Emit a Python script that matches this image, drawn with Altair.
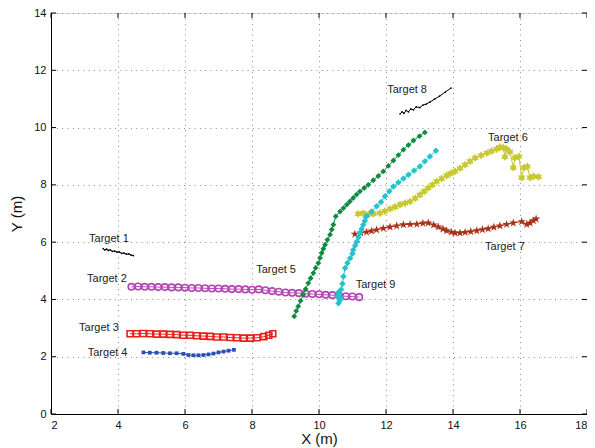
import altair as alt
import pandas as pd

# ---- data ----
t1_x = [3.56, 3.61, 3.66, 3.71, 3.77, 3.83, 3.90, 3.97, 4.04, 4.11, 4.18, 4.25, 4.32, 4.39, 4.46]
t1_y = [5.77, 5.73, 5.76, 5.71, 5.73, 5.68, 5.69, 5.65, 5.66, 5.61, 5.62, 5.58, 5.59, 5.55, 5.53]

t2_x = [4.4, 4.6, 4.8, 5.0, 5.2, 5.4, 5.6, 5.8, 6.0, 6.2, 6.4, 6.6, 6.8, 7.0, 7.2, 7.4, 7.6, 7.8,
        8.0, 8.2, 8.4, 8.6, 8.8, 9.0, 9.2, 9.4, 9.6, 9.8, 10.0, 10.2, 10.4, 10.6, 10.8, 11.0, 11.2]
t2_y = [4.44, 4.45, 4.44, 4.44, 4.43, 4.43, 4.42, 4.42, 4.41, 4.40, 4.40, 4.39, 4.38, 4.38, 4.37, 4.36, 4.36, 4.35,
        4.34, 4.35, 4.32, 4.29, 4.27, 4.24, 4.23, 4.22, 4.20, 4.19, 4.18, 4.16, 4.15, 4.13, 4.11, 4.10, 4.08]

t3_x = [4.36, 4.55, 4.75, 4.95, 5.15, 5.35, 5.55, 5.75, 5.95, 6.15, 6.35, 6.55, 6.75, 6.95, 7.15, 7.35,
        7.55, 7.75, 7.95, 8.15, 8.35, 8.50, 8.62]
t3_y = [2.80, 2.80, 2.81, 2.80, 2.79, 2.79, 2.78, 2.77, 2.75, 2.75, 2.73, 2.72, 2.71, 2.69, 2.69, 2.67,
        2.66, 2.65, 2.65, 2.66, 2.70, 2.75, 2.80]

t4_x = [4.76, 4.95, 5.15, 5.35, 5.55, 5.75, 5.95, 6.10, 6.25, 6.40, 6.55, 6.70, 6.85, 7.00, 7.15, 7.30, 7.46]
t4_y = [2.15, 2.14, 2.14, 2.13, 2.12, 2.12, 2.10, 2.06, 2.05, 2.05, 2.06, 2.08, 2.11, 2.15, 2.18, 2.21, 2.24]

t5_x = [9.26, 9.32, 9.38, 9.45, 9.53, 9.60, 9.68, 9.75, 9.83, 9.90, 9.98, 10.03, 10.08, 10.13, 10.18, 10.25,
        10.33, 10.38, 10.43, 10.50, 10.63, 10.73, 10.83, 10.92, 11.02, 11.12, 11.22, 11.35, 11.47, 11.62,
        11.77, 11.92, 12.07, 12.22, 12.37, 12.52, 12.67, 12.82, 13.00, 13.16]
t5_y = [3.41, 3.60, 3.76, 3.95, 4.16, 4.36, 4.57, 4.74, 4.92, 5.10, 5.27, 5.45, 5.62, 5.77, 5.91, 6.08,
        6.26, 6.44, 6.61, 6.90, 7.07, 7.19, 7.31, 7.42, 7.54, 7.66, 7.77, 7.89, 8.00, 8.16,
        8.31, 8.47, 8.66, 8.85, 9.04, 9.23, 9.39, 9.55, 9.70, 9.83]

t6_x = [11.17, 11.32, 11.40, 11.47, 11.62, 11.82, 11.97, 12.12, 12.27, 12.42, 12.57, 12.72, 12.87, 13.01,
        13.14, 13.26, 13.38, 13.51, 13.66, 13.81, 13.93, 14.06, 14.21, 14.36, 14.51, 14.66, 14.84, 15.01,
        15.15, 15.30, 15.40, 15.50, 15.55, 15.60, 15.70, 15.80, 15.85, 15.97, 16.05, 16.12, 16.22, 16.30,
        16.40, 16.55]
t6_y = [6.99, 7.01, 6.92, 6.96, 6.99, 7.01, 7.08, 7.16, 7.23, 7.31, 7.36, 7.42, 7.53, 7.65,
        7.77, 7.89, 8.00, 8.12, 8.22, 8.32, 8.40, 8.47, 8.58, 8.70, 8.82, 8.94, 9.03, 9.11,
        9.18, 9.25, 9.32, 9.30, 8.98, 9.25, 9.15, 8.60, 8.95, 8.99, 8.25, 8.60, 8.64, 8.25,
        8.30, 8.28]

t7_x = [11.07, 11.25, 11.42, 11.57, 11.72, 11.92, 12.12, 12.32, 12.52, 12.72, 12.92, 13.10, 13.26, 13.42,
        13.56, 13.70, 13.81, 13.95, 14.06, 14.21, 14.36, 14.53, 14.71, 14.88, 15.05, 15.22, 15.40, 15.60,
        15.80, 16.05, 16.20, 16.30, 16.40, 16.48]
t7_y = [6.28, 6.32, 6.35, 6.39, 6.43, 6.48, 6.53, 6.57, 6.61, 6.62, 6.63, 6.66, 6.67, 6.60,
        6.53, 6.46, 6.40, 6.35, 6.32, 6.32, 6.34, 6.37, 6.40, 6.44, 6.47, 6.52, 6.57, 6.62,
        6.67, 6.72, 6.62, 6.67, 6.75, 6.81]

t8_x = [12.42, 12.48, 12.54, 12.60, 12.67, 12.74, 12.82, 12.90, 13.01, 13.10, 13.20, 13.31, 13.45, 13.60, 13.77, 13.94]
t8_y = [10.48, 10.55, 10.50, 10.60, 10.55, 10.65, 10.62, 10.72, 10.70, 10.78, 10.82, 10.89, 10.99, 11.10, 11.24, 11.38]

t9_x = [10.58, 10.55, 10.62, 10.58, 10.65, 10.66, 10.70, 10.73, 10.78, 10.85, 10.93, 11.00, 11.02, 11.08,
        11.13, 11.18, 11.22, 11.27, 11.32, 11.37, 11.42, 11.57, 11.72, 11.85, 11.97, 12.10, 12.22, 12.37,
        12.52, 12.67, 12.84, 13.01, 13.16, 13.31, 13.49]
t9_y = [3.87, 4.10, 3.95, 4.25, 4.05, 4.35, 4.55, 4.80, 5.10, 5.27, 5.44, 5.60, 5.73, 5.88,
        6.02, 6.17, 6.32, 6.46, 6.61, 6.75, 6.90, 7.07, 7.25, 7.40, 7.60, 7.78, 7.94, 8.08,
        8.22, 8.35, 8.50, 8.64, 8.82, 8.99, 9.19]

label_text = ["Target 1", "Target 2", "Target 3", "Target 4", "Target 5",
              "Target 6", "Target 7", "Target 8", "Target 9"]
label_x = [3.73, 3.67, 3.43, 3.69, 8.72, 15.64, 15.55, 12.63, 11.69]
label_y = [6.10, 4.70, 3.00, 2.14, 5.04, 9.63, 5.84, 11.32, 4.49]

x_ticks = [2, 4, 6, 8, 10, 12, 14, 16, 18]
y_ticks = [0, 2, 4, 6, 8, 10, 12, 14]

# ---- styles ----
STAR5 = ("M0,-1L0.2245,-0.309L0.9511,-0.309L0.3633,0.118L0.5878,0.809L0,0.382"
         "L-0.5878,0.809L-0.3633,0.118L-0.9511,-0.309L-0.2245,-0.309Z")
STAR6 = ("M0,-1L0.2887,-0.5L0.866,-0.5L0.577,0L0.866,0.5L0.2887,0.5L0,1"
         "L-0.2887,0.5L-0.866,0.5L-0.577,0L-0.866,-0.5L-0.2887,-0.5Z")

series = [
    (t1_x, t1_y, "#000000", "circle", 3, True),
    (t2_x, t2_y, "#b444b4", "circle", 42, False),
    (t3_x, t3_y, "#e8201c", "square", 36, False),
    (t4_x, t4_y, "#2a4fb4", "square", 14, True),
    (t5_x, t5_y, "#108a40", "diamond", 34, True),
    (t6_x, t6_y, "#c8c832", STAR6, 70, True),
    (t7_x, t7_y, "#a83218", STAR5, 80, True),
    (t8_x, t8_y, "#000000", "circle", 3, True),
    (t9_x, t9_y, "#22c4cc", "diamond", 42, True),
]

W, H = 536, 401
xs = alt.Scale(domain=[2, 18], nice=False, zero=False)
ys = alt.Scale(domain=[0, 14], nice=False, zero=False)

common = dict(grid=True, tickSize=0, labelPadding=5,
              gridDash=[1, 4.3], gridColor="#8a8a8a", gridWidth=1,
              domainColor="#000000", labelFontSize=11, labelColor="#111111",
              titleFontSize=15, titleFontWeight="normal", titleColor="#111111",
              labelFont="Liberation Sans", titleFont="Liberation Sans", format="d")
x_axis = alt.Axis(values=x_ticks, title="X (m)", titlePadding=1, **common)
y_axis = alt.Axis(values=y_ticks, title="Y (m)", titlePadding=9, **common)

X = alt.X("x:Q", scale=xs, axis=x_axis)
Y = alt.Y("y:Q", scale=ys, axis=y_axis)

layers = []
for sx, sy, col, shp, sz, filled in series:
    df = pd.DataFrame({"x": sx, "y": sy, "i": list(range(len(sx)))})
    pt = alt.OverlayMarkDef(shape=shp, size=sz, filled=filled, color=col,
                            strokeWidth=1.6 if not filled else 0.8, opacity=1)
    ch = alt.Chart(df).mark_line(color=col, strokeWidth=1, point=pt).encode(
        x=X, y=Y, order="i:Q")
    layers.append(ch)

lab_df = pd.DataFrame({"x": label_x, "y": label_y, "t": label_text})
labels = alt.Chart(lab_df).mark_text(fontSize=11, font="Liberation Sans", color="#222222",
                                     align="center", baseline="middle").encode(x=X, y=Y, text="t:N")

# inward ticks (MATLAB style)
xt_df = pd.DataFrame({"x": x_ticks})
yt_df = pd.DataFrame({"y": y_ticks})
xt_bot = alt.Chart(xt_df).mark_rule(color="#000000").encode(x=X, y=alt.value(H), y2=alt.value(H - 5))
xt_top = alt.Chart(xt_df).mark_rule(color="#000000").encode(x=X, y=alt.value(0), y2=alt.value(5))
yt_left = alt.Chart(yt_df).mark_rule(color="#000000").encode(y=Y, x=alt.value(0), x2=alt.value(5))
yt_right = alt.Chart(yt_df).mark_rule(color="#000000").encode(y=Y, x=alt.value(W), x2=alt.value(W - 5))

chart = alt.layer(*layers, labels, xt_bot, xt_top, yt_left, yt_right).properties(
    width=W, height=H,
    autosize=alt.AutoSizeParams(type="none"),
    padding={"left": 43, "top": 5, "right": 0, "bottom": 34},
).configure_view(stroke="#000000", strokeWidth=1.2).configure(background="white")

chart.save("out.html", embed_options={"renderer": "svg", "actions": False})
